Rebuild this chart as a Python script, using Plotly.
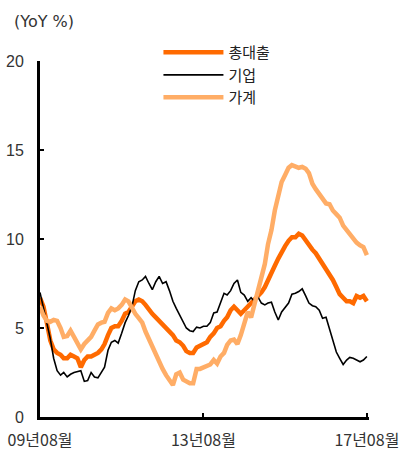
import plotly.graph_objects as go
import pandas as pd

months = pd.date_range("2009-08-01", "2017-08-01", freq="MS").strftime("%Y-%m-%d").tolist()

total_loans = [6.7, 6.2, 5.3, 4.3, 3.8, 3.6, 3.5, 3.3, 3.3, 3.5,
               3.4, 3.3, 2.8, 3.2, 3.4, 3.4, 3.5, 3.6, 3.8, 4.1,
               4.6, 5.0, 5.1, 5.1, 5.4, 5.8, 5.9, 6.2, 6.5, 6.6,
               6.5, 6.3, 6.0, 5.8, 5.6, 5.4, 5.2, 5.0, 4.8, 4.6,
               4.3, 4.2, 4.0, 3.7, 3.6, 3.6, 3.9, 4.0, 4.1, 4.2,
               4.5, 4.7, 5.0, 5.1, 5.4, 5.6, 6.0, 6.2, 6.0, 5.8,
               6.0, 6.2, 6.4, 6.6, 6.8, 7.0, 7.3, 7.7, 8.2, 8.5,
               8.9, 9.3, 9.6, 9.9, 10.1, 10.1, 10.3, 10.2, 9.9, 9.6,
               9.4, 9.2, 8.9, 8.7, 8.4, 8.0, 7.7, 7.3, 6.9, 6.7,
               6.5, 6.5, 6.4, 6.8, 6.7, 6.8, 6.5]

corporate = [7.0, 6.1, 5.2, 4.4, 3.3, 2.6, 2.35, 2.5, 2.25, 2.4,
             2.5, 2.55, 2.6, 2.0, 2.05, 2.5, 2.25, 2.2, 2.5, 2.8,
             3.75, 4.2, 4.3, 4.15, 4.7, 5.3, 5.7, 6.2, 7.1, 7.6,
             7.7, 7.9, 7.5, 7.15, 7.6, 7.9, 7.5, 7.6, 7.1, 6.5,
             6.1, 5.7, 5.3, 5.0, 4.85, 4.8, 5.05, 5.0, 5.1, 5.1,
             5.3, 5.85, 5.9, 6.4, 6.95, 6.85, 7.1, 7.5, 7.7, 7.0,
             6.85, 6.5, 6.7, 6.5, 6.75, 6.4, 6.3, 6.4, 6.45, 5.9,
             5.45, 5.9, 6.15, 6.4, 6.9, 6.95, 7.05, 7.2, 6.8, 6.4,
             6.25, 6.2, 6.0, 5.55, 5.6, 4.9, 4.2, 3.65, 3.3, 2.95,
             3.2, 3.35, 3.3, 3.2, 3.1, 3.2, 3.4]

household = [6.2, 5.7, 5.4, 5.35, 5.45, 5.4, 5.0, 4.5, 4.55, 4.85,
             4.5, 4.2, 3.8, 4.1, 4.3, 4.5, 4.85, 5.2, 5.3, 5.35,
             5.85, 6.1, 6.0, 6.1, 6.3, 6.6, 6.5, 6.1, 5.8, 5.55,
             5.3, 4.8, 4.35, 3.9, 3.5, 3.0, 2.7, 2.35, 2.05, 1.8,
             2.4, 2.5, 2.1, 2.0, 1.9, 1.9, 2.7, 2.7, 2.8, 2.85,
             2.95, 3.2, 3.0, 3.4, 3.6, 4.05, 4.3, 4.35, 4.1, 4.6,
             5.3, 5.9, 5.6, 6.3, 7.0, 7.8, 8.6, 9.7, 10.5, 11.6,
             12.5, 13.2, 13.6, 14.0, 14.15, 14.1, 14.0, 14.05, 13.95, 13.7,
             13.1, 12.8, 12.5, 12.3, 12.0, 11.95, 11.6, 11.4, 11.2, 10.75,
             10.5, 10.2, 10.0, 9.8, 9.65, 9.55, 9.1]

tick_vals = ["2009-08-01", "2013-08-01", "2017-08-01"]
tick_text = ["09년08월", "13년08월", "17년08월"]
y_ticks = [0, 5, 10, 15, 20]

FONT = "Liberation Sans, Noto Sans CJK KR, sans-serif"

fig = go.Figure()
fig.add_trace(go.Scatter(x=months, y=total_loans, name="총대출", mode="lines",
                         line=dict(color="#FF6A00", width=4.5)))
fig.add_trace(go.Scatter(x=months, y=corporate, name="기업", mode="lines",
                         line=dict(color="#000000", width=1.6)))
fig.add_trace(go.Scatter(x=months, y=household, name="가계", mode="lines",
                         line=dict(color="#FFAD66", width=4.5)))

fig.update_layout(
    width=403, height=450,
    margin=dict(l=40, r=34, t=61, b=33),
    paper_bgcolor="white", plot_bgcolor="white",
    font=dict(family=FONT, size=15, color="#222222"),
    showlegend=True,
    legend=dict(x=0.36, y=1.07, xanchor="left", yanchor="top",
                bgcolor="rgba(0,0,0,0)", tracegroupgap=0,
                font=dict(family="Noto Sans CJK KR, sans-serif", size=15, color="#222222"),
                itemwidth=60),
    xaxis=dict(range=["2009-08-01", "2017-08-20"], tickvals=tick_vals, ticktext=tick_text,
               showline=True, linecolor="black", linewidth=3, ticks="inside",
               ticklen=4, tickwidth=1.5, tickcolor="black", showgrid=False, zeroline=False,
               tickfont=dict(family="Noto Sans CJK KR, sans-serif", size=16, color="#333333"),
               ticklabelstandoff=7, automargin=False),
    yaxis=dict(range=[0, 20], tickvals=y_ticks, showline=True, linecolor="black",
               linewidth=3, ticks="inside", ticklen=4, tickwidth=1.5, tickcolor="black",
               showgrid=False, zeroline=False,
               tickfont=dict(family=FONT, size=16, color="#333333"),
               ticklabelstandoff=10, automargin=False),
    annotations=[dict(text="(YoY %)", xref="paper", yref="paper", x=-0.085, y=1.11,
                      xanchor="left", yanchor="middle", showarrow=False,
                      font=dict(family="DejaVu Sans, sans-serif", size=16, color="#333333"))],
)

fig.write_html("out.html")
